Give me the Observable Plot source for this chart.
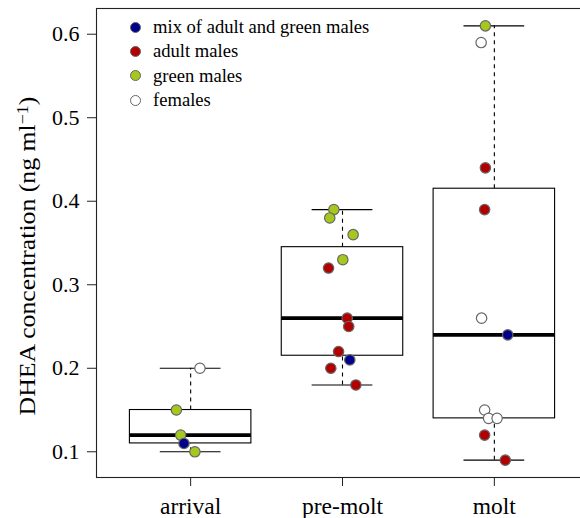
<!DOCTYPE html>
<html>
<head>
<meta charset="utf-8">
<script src="https://cdn.jsdelivr.net/npm/d3@7"></script>
<script src="https://cdn.jsdelivr.net/npm/@observablehq/plot@0.6"></script>
<style>
  body { margin: 0; background: #fff; }
  #wrap { position: relative; width: 580px; height: 518px; overflow: hidden; font-family: "Liberation Serif", serif; }
  #wrap svg, #wrap svg text, #wrap svg g { font-family: "Liberation Serif", serif !important; }
  #ylabel { position: absolute; width: 420px; left: -182px; top: 245px; height: 22px; line-height: 22px; font-size: 23px; text-align: center; transform: rotate(-90deg) scaleX(1.12); white-space: nowrap; color: #000; font-family: "Liberation Serif", serif; }
  #ylabel sup { font-size: 16px; line-height: 0; vertical-align: 0.45em; }
  #legend { position: absolute; left: 130px; top: 15px; font-size: 18.6px; line-height: 24.3px; color: #000; font-family: "Liberation Serif", serif; }
  .row { display: flex; align-items: center; height: 24.3px; white-space: nowrap; font-family: "Liberation Serif", serif; }
  .sw { display: inline-block; width: 9px; height: 9px; border-radius: 50%; border: 1px solid #666; margin-right: 12px; }
</style>
</head>
<body>
<div id="wrap"></div>
<script>
// ---- data ----
const phases = ["arrival", "pre-molt", "molt"];
const groupNames = ["mix of adult and green males", "adult males", "green males", "females"];
const groupColors = ["#00008b", "#b20000", "#a6c81e", "#ffffff"];

const arrivalValues = [0.20, 0.15, 0.12, 0.11, 0.10];
const arrivalGroups = ["females", "green males", "green males", "mix of adult and green males", "green males"];
const arrivalJitter = [0.061, -0.094, -0.066, -0.044, 0.028];

const premoltValues = [0.39, 0.38, 0.36, 0.33, 0.32, 0.26, 0.25, 0.22, 0.21, 0.20, 0.18];
const premoltGroups = ["green males", "green males", "green males", "green males", "adult males", "adult males", "adult males", "adult males", "mix of adult and green males", "adult males", "adult males"];
const premoltJitter = [-0.057, -0.084, 0.070, 0.002, -0.092, 0.031, 0.041, -0.026, 0.048, -0.077, 0.088];

const moltValues = [0.61, 0.59, 0.44, 0.39, 0.26, 0.24, 0.15, 0.14, 0.14, 0.12, 0.09];
const moltGroups = ["green males", "females", "adult males", "adult males", "females", "mix of adult and green males", "females", "females", "females", "adult males", "adult males"];
const moltJitter = [-0.059, -0.087, -0.059, -0.064, -0.084, 0.088, -0.064, -0.038, 0.018, -0.064, 0.072];

const yTicks = [0.1, 0.2, 0.3, 0.4, 0.5, 0.6];

// ---- derived tables ----
const phaseData = [
  {values: arrivalValues, groups: arrivalGroups, jitter: arrivalJitter},
  {values: premoltValues, groups: premoltGroups, jitter: premoltJitter},
  {values: moltValues, groups: moltGroups, jitter: moltJitter}
];

function fivenum(arr) {
  const x = d3.sort(arr);
  const n = x.length;
  const n4 = Math.floor((n + 3) / 2) / 2;
  const d = [1, n4, (n + 1) / 2, n + 1 - n4, n];
  return d.map(k => 0.5 * (x[Math.floor(k) - 1] + x[Math.ceil(k) - 1]));
}

const stats = phaseData.map((p, i) => {
  const f = fivenum(p.values);
  return {x: i + 1, min: f[0], lo: f[1], med: f[2], hi: f[3], max: f[4]};
});

const points = [];
phaseData.forEach((p, i) => p.values.forEach((v, j) => {
  points.push({x: i + 1 + p.jitter[j], y: v, g: p.groups[j]});
}));

const allVals = points.map(d => d.y);
const yMin = d3.min(allVals), yMax = d3.max(allVals);
const pad = (yMax - yMin) * 0.04;
const nBox = phases.length;
const xPad = nBox * 0.04;

const boxHalf = 0.4, capHalf = 0.2;

const chart = Plot.plot({
  width: 580,
  height: 518,
  marginLeft: 96,
  marginRight: -8,
  marginTop: 8,
  marginBottom: 41,
  style: {fontFamily: "Liberation Serif, serif", fontSize: "22px", background: "#fff", color: "#000", overflow: "hidden"},
  x: {domain: [0.5 - xPad, nBox + 0.5 + xPad]},
  y: {domain: [yMin - pad, yMax + pad]},
  color: {domain: groupNames, range: groupColors},
  marks: [
    Plot.ruleX(stats, {x: "x", y1: "hi", y2: "max", stroke: "#000", strokeWidth: 1.1, strokeDasharray: "4,4"}),
    Plot.ruleX(stats, {x: "x", y1: "min", y2: "lo", stroke: "#000", strokeWidth: 1.1, strokeDasharray: "4,4"}),
    Plot.ruleY(stats, {y: "max", x1: d => d.x - capHalf, x2: d => d.x + capHalf, stroke: "#000", strokeWidth: 1.1}),
    Plot.ruleY(stats, {y: "min", x1: d => d.x - capHalf, x2: d => d.x + capHalf, stroke: "#000", strokeWidth: 1.1}),
    Plot.rect(stats, {x1: d => d.x - boxHalf, x2: d => d.x + boxHalf, y1: "lo", y2: "hi", fill: "white", stroke: "#000", strokeWidth: 1.1}),
    Plot.ruleY(stats, {y: "med", x1: d => d.x - boxHalf, x2: d => d.x + boxHalf, stroke: "#000", strokeWidth: 3.6}),
    Plot.dot(points, {x: "x", y: "y", r: 5.2, fill: "g", stroke: "#666", strokeWidth: 1.2}),
    Plot.frame({stroke: "#222", strokeWidth: 1.1}),
    Plot.axisX({ticks: [1, 2, 3], tickFormat: i => phases[i - 1], tickSize: 9, tickPadding: 11, label: null, stroke: "#222", fontSize: 23.5}),
    Plot.axisY({ticks: yTicks, tickFormat: d3.format(".1f"), tickSize: 9, tickPadding: 8, label: null, stroke: "#222", fontSize: 22})
  ]
});

const wrap = document.getElementById("wrap");
wrap.appendChild(chart);

// y-axis title
const yl = document.createElement("div");
yl.id = "ylabel";
yl.innerHTML = "DHEA concentration (ng ml<sup>\u22121</sup>)";
wrap.appendChild(yl);

// legend
const leg = document.createElement("div");
leg.id = "legend";
groupNames.forEach((name, i) => {
  const row = document.createElement("div");
  row.className = "row";
  const sw = document.createElement("span");
  sw.className = "sw";
  sw.style.background = groupColors[i];
  const t = document.createElement("span");
  t.textContent = name;
  row.appendChild(sw);
  row.appendChild(t);
  leg.appendChild(row);
});
wrap.appendChild(leg);
</script>
</body>
</html>
